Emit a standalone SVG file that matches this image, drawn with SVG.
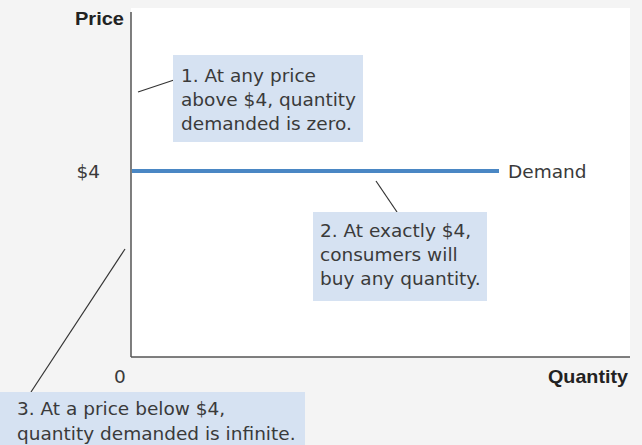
<svg xmlns="http://www.w3.org/2000/svg" width="642" height="445" viewBox="0 0 642 445">
<style>
.t{font-family:"DejaVu Sans","Noto Sans",sans-serif;font-size:18.5px;fill:#3a3a3a}
.b{font-family:"Liberation Sans",Arial,sans-serif;font-size:19px;font-weight:bold;fill:#222}
.box{fill:#d6e2f2}
.lead{stroke:#333;stroke-width:1.2;fill:none}
.axis{stroke:#555;stroke-width:1.5}
</style>
<rect width="642" height="445" fill="#f4f4f4"/>
<rect x="131" y="8" width="499" height="349" fill="#ffffff"/>
<g id="axes">
<line class="axis" x1="131" y1="12" x2="131" y2="357"/>
<line class="axis" x1="131" y1="357" x2="630" y2="357"/>
<text class="b" x="75" y="25" textLength="49" lengthAdjust="spacingAndGlyphs">Price</text>
<text class="b" x="548" y="383" textLength="80" lengthAdjust="spacingAndGlyphs">Quantity</text>
<text class="t" x="120" y="383" text-anchor="middle">0</text>
<text class="t" x="100" y="178" text-anchor="end">$4</text>
</g>
<g id="demand">
<line x1="132" y1="171" x2="499" y2="171" stroke="#4a87c4" stroke-width="4"/>
<text class="t" x="508" y="178">Demand</text>
</g>
<g id="connectors">
<line class="lead" x1="138" y1="92" x2="174" y2="80"/>
<line class="lead" x1="376" y1="181" x2="397" y2="212"/>
<line class="lead" x1="125" y1="249" x2="31" y2="392"/>
</g>
<g id="note1">
<rect class="box" x="173" y="55" width="190" height="87"/>
<text class="t" x="181" y="82">1. At any price</text>
<text class="t" x="181" y="106">above $4, quantity</text>
<text class="t" x="181" y="130">demanded is zero.</text>
</g>
<g id="note2">
<rect class="box" x="313" y="212" width="174" height="89"/>
<text class="t" x="320" y="237">2. At exactly $4,</text>
<text class="t" x="320" y="261">consumers will</text>
<text class="t" x="320" y="285">buy any quantity.</text>
</g>
<g id="note3">
<rect class="box" x="0" y="392" width="305" height="53"/>
<text class="t" x="17" y="415">3. At a price below $4,</text>
<text class="t" x="17" y="440">quantity demanded is infinite.</text>
</g>
</svg>
